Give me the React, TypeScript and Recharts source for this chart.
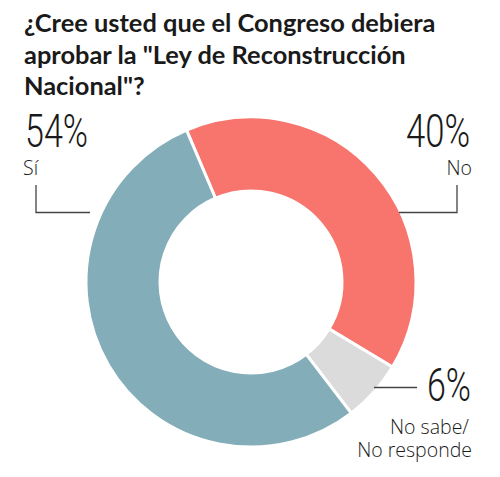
import { Cell, Pie, PieChart } from "recharts";

const categories = ["No", "No sabe / No responde", "Sí"];
const values = [40, 6, 54];
const colors = ["#f7756d", "#dbdbdb", "#82adb9"];
const title = [
  "¿Cree usted que el Congreso debiera",
  "aprobar la \"Ley de Reconstrucción",
  "Nacional\"?",
];

const data = categories.map((name, i) => ({ name, value: values[i] }));

const numFont = "Roboto, 'DejaVu Sans', sans-serif";
const labelFont = "'Open Sans', 'Noto Sans', sans-serif";
const ink = "#1a1a1a";

export default function App() {
  return (
    <div
      style={{
        position: "absolute",
        left: 0,
        top: 0,
        width: 500,
        height: 477,
        background: "#fff",
        overflow: "hidden",
      }}
    >
      <PieChart width={500} height={477}>
        <Pie
          data={data}
          dataKey="value"
          nameKey="name"
          cx={246}
          cy={277}
          innerRadius={91}
          outerRadius={165}
          startAngle={113}
          endAngle={-247}
          stroke="#fff"
          strokeWidth={3}
          isAnimationActive={false}
        >
          {data.map((d, i) => (
            <Cell key={d.name} fill={colors[i]} />
          ))}
        </Pie>
      </PieChart>

      <svg
        width={500}
        height={477}
        style={{ position: "absolute", left: 0, top: 0, pointerEvents: "none" }}
      >
        <g fontFamily="Lato, 'Noto Sans', sans-serif" fontWeight={700} fontSize={25.4} fill={ink}>
          {title.map((t, i) => (
            <text key={i} x={24} y={32 + i * 31.5}>
              {t}
            </text>
          ))}
        </g>

        {/* Sí */}
        <text x={25} y={147} fontFamily={numFont} fontWeight={300} fontSize={46} fill={ink} textLength={63} lengthAdjust="spacingAndGlyphs">
          {`${values[2]}%`}
        </text>
        <text x={23} y={175} fontFamily={labelFont} fontWeight={300} fontSize={19.5} fill={ink}>
          {categories[2]}
        </text>
        <path d="M36 185 V212.5 H90" fill="none" stroke="#444" strokeWidth={1.3} />

        {/* No */}
        <text x={406} y={147} fontFamily={numFont} fontWeight={300} fontSize={46} fill={ink} textLength={64} lengthAdjust="spacingAndGlyphs">
          {`${values[0]}%`}
        </text>
        <text x={472} y={175} textAnchor="end" fontFamily={labelFont} fontWeight={300} fontSize={19.5} fill={ink}>
          {categories[0]}
        </text>
        <path d="M457 185 V212.5 H399" fill="none" stroke="#444" strokeWidth={1.3} />

        {/* No sabe */}
        <text x={427} y={401} fontFamily={numFont} fontWeight={300} fontSize={47} fill={ink} textLength={44} lengthAdjust="spacingAndGlyphs">
          {`${values[1]}%`}
        </text>
        <text x={469} y={434} textAnchor="end" fontFamily={labelFont} fontWeight={300} fontSize={19.5} fill={ink}>
          No sabe/
        </text>
        <text x={472} y={457} textAnchor="end" fontFamily={labelFont} fontWeight={300} fontSize={19.5} fill={ink}>
          No responde
        </text>
        <path d="M374 387.5 H417" fill="none" stroke="#444" strokeWidth={1.3} />
      </svg>
    </div>
  );
}
